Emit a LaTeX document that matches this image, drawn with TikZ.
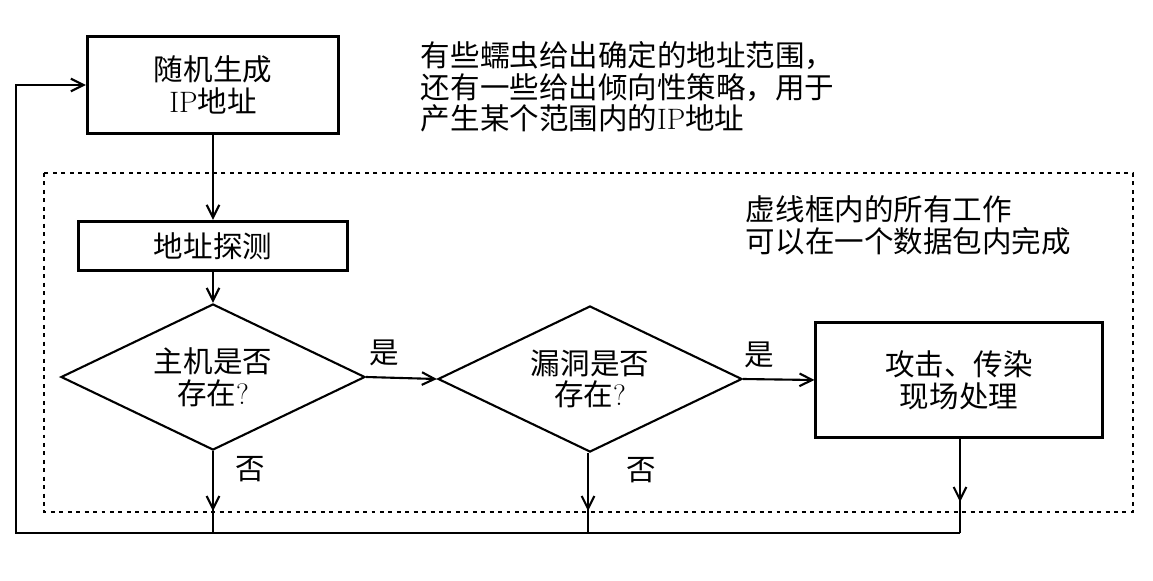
\documentclass[tikz,border=0pt]{standalone}
\usepackage{fontspec}
\newfontfamily\cjk{Noto Sans CJK SC}
\usetikzlibrary{arrows.meta,shapes.geometric}

\begin{document}
\begin{tikzpicture}[x=0.025cm, y=-0.025cm, >={Straight Barb[length=9pt,width=9pt]},
  every node/.style={font=\cjk\fontsize{21}{22.5}\selectfont},
  box/.style={draw, line width=2.1pt, align=center, inner sep=0pt},
  decide/.style={draw, diamond, aspect=2, line width=1.5pt, align=center, inner sep=0pt,
    minimum width=7.6cm, minimum height=3.65cm},
  flow/.style={line width=1.5pt}]
  \useasboundingbox (0,0) rectangle (1153,580);
  % dotted frame
  \draw[line width=1.6pt, dash pattern=on 2.8pt off 3.2pt] (44,173) rectangle (1133,512);
  \node[box, minimum width=6.28cm, minimum height=2.43cm] (gen) at (213,85) {随机生成\\{\normalfont IP}地址};
  \node[box, minimum width=6.7cm, minimum height=1.23cm] (scan) at (213,246) {地址探测};
  \node[decide] (host) at (213,377) {主机是否\\存在{\normalfont ?}};
  \node[decide] (hole) at (590,379) {漏洞是否\\存在{\normalfont ?}};
  \node[box, minimum width=7.15cm, minimum height=2.88cm] (act) at (959,380) {攻击、传染\\现场处理};
  \node[anchor=west, align=left] (note) at (416,87) {有些蠕虫给出确定的地址范围，\\还有一些给出倾向性策略，用于\\产生某个范围内的{\normalfont IP}地址};
  \node[anchor=west, align=left] (frame) at (741,225) {虚线框内的所有工作\\可以在一个数据包内完成};
  \coordinate (b1) at (213,533);
  \coordinate (b2) at (588,533);
  \coordinate (b3) at (960,533);
  \coordinate (c0) at (16,533);
  \coordinate (t1) at (213,511);
  \coordinate (t2) at (588,511);
  \coordinate (t3) at (960,502);
  \draw[flow, ->] (gen) -- (scan);
  \draw[flow, ->] (scan) -- (host);
  \draw[flow, ->] (host.east) -- node[pos=0.25, above=4pt] {是} (hole.west);
  \draw[flow, ->] (hole.east) -- node[pos=0.22, above=4pt] {是} (act.west);
  \draw[flow, ->] (host.south) -- node[pos=0.3, right=12pt] {否} (t1);
  \draw[flow, ->] (hole.south -| b2) -- node[pos=0.3, right=23pt] {否} (t2);
  \draw[flow, ->] (act.south -| b3) -- (t3);
  \draw[flow] (b1) -- (host.south);
  \draw[flow] (b2) -- (hole.south -| b2);
  \draw[flow] (b3) -- (act.south -| b3);
  \draw[flow, ->] (b3) -- (c0) |- (gen.west);
\end{tikzpicture}
\end{document}
